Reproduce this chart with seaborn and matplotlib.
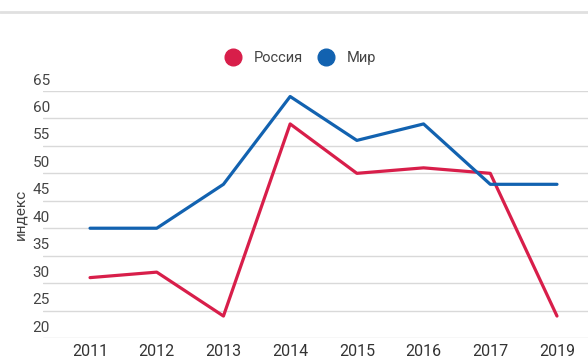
import matplotlib
matplotlib.use("Agg")
import matplotlib.pyplot as plt
from matplotlib.lines import Line2D
import seaborn as sns
import pandas as pd

# Index values by year
years = ["2011", "2012", "2013", "2014", "2015", "2016", "2017", "2019"]
russia = [31, 32, 24, 59, 50, 51, 50, 24]
world = [40, 40, 48, 64, 56, 59, 48, 48]
series_names = ["Россия", "Мир"]
y_ticks = [20, 25, 30, 35, 40, 45, 50, 55, 60, 65]

colors = {"Россия": "#d81e4a", "Мир": "#1262b0"}

df = pd.DataFrame({
    "year": years * 2,
    "value": russia + world,
    "series": [series_names[0]] * len(years) + [series_names[1]] * len(years),
})

sns.set_theme(style="white")
plt.rcParams["font.family"] = ["Roboto", "DejaVu Sans"]

W, H = 588, 359
fig = plt.figure(figsize=(W / 100, H / 100), dpi=100)
left, right, top, bottom = 43, 588, 91, 338
ax = fig.add_axes([left / W, 1 - bottom / H, (right - left) / W, (bottom - top) / H])

sns.lineplot(data=df, x="year", y="value", hue="series", palette=colors,
             linewidth=2.3, ax=ax, legend=False, sort=False)

ax.set_ylim(20, 65)
ax.set_xlim(-0.705, 7.465)
ax.set_yticks(y_ticks)
ax.set_yticklabels([])
ax.tick_params(axis="y", length=0)
ax.tick_params(axis="x", length=0, pad=4, labelsize=11.5, labelcolor="#333333")
ax.grid(axis="y", color="#d9d9d9", linewidth=1)
ax.set_axisbelow(True)
for s in ax.spines.values():
    s.set_visible(False)

# Value labels sit just above each gridline
for v in y_ticks:
    ax.annotate(str(v), xy=(0, v), xycoords=("axes fraction", "data"),
                xytext=(-7.5, 2.5), textcoords="offset points",
                ha="left", va="bottom", fontsize=11, color="#444444")

ax.set_xlabel("")
ax.set_ylabel("индекс", fontsize=11, color="#444444", labelpad=8)

handles = [Line2D([], [], marker="o", linestyle="none", markersize=12,
                  markerfacecolor=colors[n], markeredgecolor=colors[n])
           for n in series_names]
fig.legend(handles, series_names, loc="center", bbox_to_anchor=(0.505, 1 - 58 / H),
           ncol=2, frameon=False, fontsize=10.5, handletextpad=0.4,
           columnspacing=0.6, labelcolor="#444444")

# Thin header rule along the top edge
fig.add_artist(Line2D([0, 1], [1 - 12 / H, 1 - 12 / H], transform=fig.transFigure,
                      color="#e0e0e0", linewidth=2))

fig.savefig("out.png", dpi=100)
